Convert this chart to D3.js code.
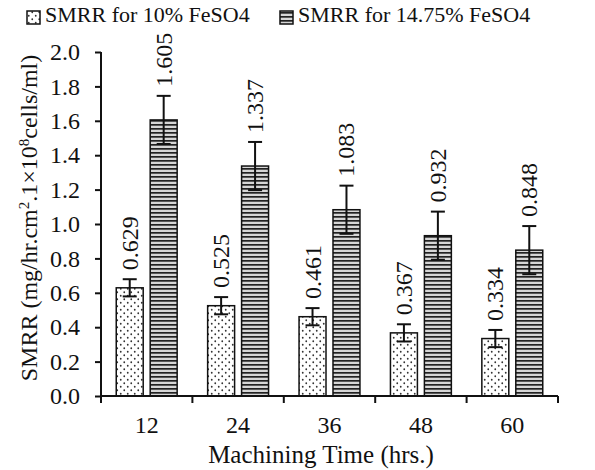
<!DOCTYPE html>
<html>
<head>
<meta charset="utf-8">
<script src="https://cdn.jsdelivr.net/npm/d3@7"></script>
<style>
  body { margin: 0; background: #fff; }
  svg text { font-family: "Liberation Serif", "Times New Roman", serif; fill: #111; }
</style>
</head>
<body>
<div id="chart"></div>
<script>
// data
var categories = ["12", "24", "36", "48", "60"];
var seriesNames = ["SMRR for 10% FeSO4", "SMRR for 14.75% FeSO4"];
var smrr10 = [0.629, 0.525, 0.461, 0.367, 0.334];
var smrr1475 = [1.605, 1.337, 1.083, 0.932, 0.848];
var err10 = [0.05, 0.05, 0.05, 0.05, 0.05];
var err1475 = [0.14, 0.14, 0.14, 0.14, 0.14];
var yTicks = [0, 0.2, 0.4, 0.6, 0.8, 1.0, 1.2, 1.4, 1.6, 1.8, 2.0];

var W = 595, H = 470;
var plotL = 101, plotR = 558, plotT = 52, plotB = 396;

var svg = d3.select("#chart").append("svg")
    .attr("width", W).attr("height", H);

var defs = svg.append("defs");
var dots = defs.append("pattern").attr("id", "dots")
    .attr("patternUnits", "userSpaceOnUse").attr("width", 7).attr("height", 7);
dots.append("rect").attr("width", 7).attr("height", 7).attr("fill", "#fff");
dots.append("circle").attr("cx", 1.75).attr("cy", 1.75).attr("r", 0.9).attr("fill", "#333");
dots.append("circle").attr("cx", 5.25).attr("cy", 5.25).attr("r", 0.9).attr("fill", "#333");

var lines = defs.append("pattern").attr("id", "hlines")
    .attr("patternUnits", "userSpaceOnUse").attr("width", 8).attr("height", 4);
lines.append("rect").attr("width", 8).attr("height", 4).attr("fill", "#d6d6d6");
lines.append("rect").attr("y", 0).attr("width", 8).attr("height", 1.7).attr("fill", "#222");

var fills = ["url(#dots)", "url(#hlines)"];

var x = d3.scaleBand().domain(categories).range([plotL, plotR]).padding(0);
var xIn = d3.scaleBand().domain([0, 1]).range([0, x.bandwidth()])
    .paddingInner(0.206).paddingOuter(0.449);
var y = d3.scaleLinear().domain([0, 2]).range([plotB, plotT]);

var rows = [];
categories.forEach(function(c, i) {
  rows.push({cat: c, s: 0, v: smrr10[i], e: err10[i]});
  rows.push({cat: c, s: 1, v: smrr1475[i], e: err1475[i]});
});

// bars
svg.selectAll("rect.bar").data(rows).enter().append("rect")
    .classed("bar", true)
    .attr("x", function(d) { return x(d.cat) + xIn(d.s); })
    .attr("y", function(d) { return y(d.v); })
    .attr("width", xIn.bandwidth())
    .attr("height", function(d) { return plotB - y(d.v); })
    .attr("fill", function(d) { return fills[d.s]; })
    .attr("stroke", "#111").attr("stroke-width", 1.5);

// error bars
var eb = svg.selectAll("g.err").data(rows).enter().append("g").classed("err", true)
    .attr("stroke", "#111").attr("stroke-width", 2);
function cx(d) { return x(d.cat) + xIn(d.s) + xIn.bandwidth() / 2; }
eb.append("line")
    .attr("x1", cx).attr("x2", cx)
    .attr("y1", function(d) { return y(d.v + d.e); })
    .attr("y2", function(d) { return y(d.v - d.e); });
eb.append("line")
    .attr("x1", function(d) { return cx(d) - 7; }).attr("x2", function(d) { return cx(d) + 7; })
    .attr("y1", function(d) { return y(d.v + d.e); })
    .attr("y2", function(d) { return y(d.v + d.e); });
eb.append("line")
    .attr("x1", function(d) { return cx(d) - 7; }).attr("x2", function(d) { return cx(d) + 7; })
    .attr("y1", function(d) { return y(d.v - d.e); })
    .attr("y2", function(d) { return y(d.v - d.e); });

// value labels
svg.selectAll("text.val").data(rows).enter().append("text")
    .classed("val", true)
    .attr("transform", function(d) {
      return "translate(" + (cx(d) + 8) + "," + (y(d.v + d.e) - 9) + ") rotate(-90)";
    })
    .attr("font-size", 24)
    .text(function(d) { return d.v.toFixed(3); });

// y axis
var yAxis = svg.append("g").attr("transform", "translate(" + plotL + ",0)")
    .call(d3.axisLeft(y).tickValues(yTicks).tickSize(6).tickPadding(15)
      .tickFormat(d3.format(".1f")));
yAxis.select(".domain").attr("stroke", "#111").attr("stroke-width", 2)
    .attr("d", "M0," + plotT + "V" + plotB);
yAxis.selectAll(".tick line").attr("stroke", "#111").attr("stroke-width", 2);
yAxis.selectAll(".tick text").attr("font-size", 24)
    .attr("font-family", "Liberation Serif").attr("fill", "#111");

// x axis
var xAxis = svg.append("g").attr("transform", "translate(0," + plotB + ")")
    .call(d3.axisBottom(x).tickSize(0).tickPadding(20));
xAxis.select(".domain").attr("stroke", "#111").attr("stroke-width", 2)
    .attr("d", "M" + plotL + ",0H" + plotR);
xAxis.selectAll(".tick text").attr("font-size", 24)
    .attr("font-family", "Liberation Serif").attr("fill", "#111");
var bounds = categories.map(function(c) { return x(c); }).concat([plotR]);
xAxis.selectAll("line.bound").data(bounds).enter().append("line")
    .classed("bound", true)
    .attr("x1", function(d) { return d; }).attr("x2", function(d) { return d; })
    .attr("y1", 0).attr("y2", 7)
    .attr("stroke", "#111").attr("stroke-width", 2);

// axis titles
svg.append("text")
    .attr("x", 321).attr("y", 463)
    .attr("text-anchor", "middle").attr("font-size", 25)
    .text("Machining Time (hrs.)");

var yt = svg.append("text")
    .attr("transform", "translate(37,218) rotate(-90)")
    .attr("text-anchor", "middle").attr("font-size", 24);
yt.append("tspan").text("SMRR (mg/hr.cm");
yt.append("tspan").attr("baseline-shift", "super").attr("font-size", 15).text("2");
yt.append("tspan").text(".1\u00d710");
yt.append("tspan").attr("baseline-shift", "super").attr("font-size", 15).text("8");
yt.append("tspan").text("cells/ml)");

// legend
var legendX = [27, 280];
var lg = svg.selectAll("g.legend").data(seriesNames).enter().append("g")
    .classed("legend", true)
    .attr("transform", function(d, i) { return "translate(" + legendX[i] + ",0)"; });
lg.append("rect")
    .attr("x", 0).attr("y", 11).attr("width", 13).attr("height", 13)
    .attr("fill", function(d, i) { return fills[i]; })
    .attr("stroke", "#111").attr("stroke-width", 1.5);
lg.append("text")
    .attr("x", 18).attr("y", 22)
    .attr("font-size", 22)
    .text(function(d) { return d; });
</script>
</body>
</html>
